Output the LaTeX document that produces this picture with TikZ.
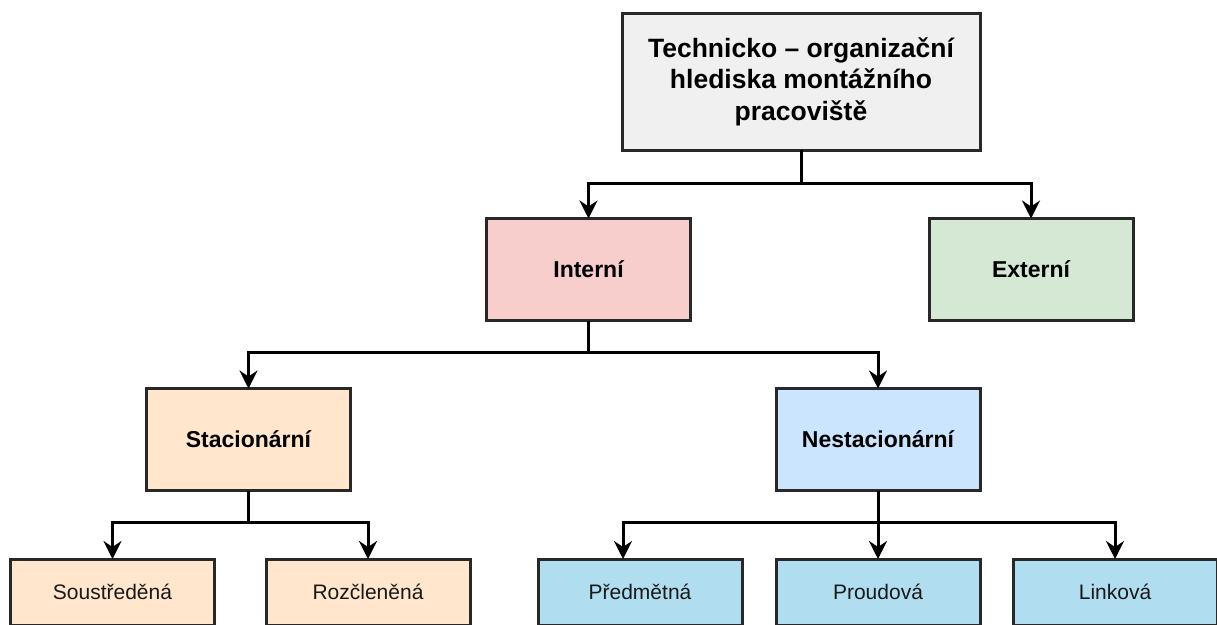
\documentclass[tikz,border=0pt]{standalone}
\usepackage{fontspec}
\setmainfont{Liberation Sans}
\usetikzlibrary{positioning,arrows.meta,calc}
\definecolor{topgray}{RGB}{240,240,240}
\definecolor{intpink}{RGB}{248,206,204}
\definecolor{extgreen}{RGB}{213,232,212}
\definecolor{staorange}{RGB}{255,230,204}
\definecolor{nesblue}{RGB}{204,229,255}
\definecolor{leafblue}{RGB}{177,221,240}
\definecolor{edgegray}{RGB}{40,40,40}
\begin{document}
\begin{tikzpicture}[x=1pt,y=1pt,yscale=-1,
  box/.style={draw=edgegray,line width=3pt,inner sep=0pt,outer sep=0pt,align=center},
  midbox/.style={box,minimum width=204pt,minimum height=102pt,font=\fontsize{23}{28}\selectfont\bfseries},
  leafbox/.style={box,minimum width=204pt,minimum height=66pt,font=\fontsize{21}{26}\selectfont,text=black!90},
  conn/.style={line width=3pt,-{Stealth[length=18pt,width=18pt,inset=6pt]}}]
\useasboundingbox (0,0) rectangle (1217,624);
\clip (0,0) rectangle (1217,624);

%Shape: Rectangle [top]
\node [box,fill=topgray,minimum width=358pt,minimum height=137pt,font=\fontsize{26.5}{31.5}\selectfont\bfseries] (tech) at (801,81.5) {Technicko -- organizační\\hlediska montážního\\pracoviště};

%Shape: Rectangle [level 1]
\node [midbox,fill=intpink] (interni) at (588.5,269.5) {Interní};
\node [midbox,fill=extgreen] (externi) at (1031,269.5) {Externí};

%Shape: Rectangle [level 2]
\node [midbox,fill=staorange] (stac) at (248.5,439.5) {Stacionární};
\node [midbox,fill=nesblue] (nestac) at (878,439.5) {Nestacionární};

%Shape: Rectangle [level 3]
\node [leafbox,fill=staorange] (soustr) at (112.5,592) {Soustředěná};
\node [leafbox,fill=staorange] (rozcl) at (368,592) {Rozčleněná};
\node [leafbox,fill=leafblue] (predm) at (640,592) {Předmětná};
\node [leafbox,fill=leafblue] (proud) at (878,592) {Proudová};
\node [leafbox,fill=leafblue] (link) at (1115,592) {Linková};

% Connectors
\draw [conn] (tech.south) -- ++(0,33) -| (interni.north);
\draw [conn] (tech.south) -- ++(0,33) -| (externi.north);
\draw [conn] (interni.south) -- ++(0,32) -| (stac.north);
\draw [conn] (interni.south) -- ++(0,32) -| (nestac.north);
\draw [conn] (stac.south) -- ++(0,32) -| (soustr.north);
\draw [conn] (stac.south) -- ++(0,32) -| (rozcl.north);
\draw [conn] (nestac.south) -- ++(0,32) -| ([xshift=-17pt]predm.north);
\draw [conn] (nestac.south) -- (proud.north);
\draw [conn] (nestac.south) -- ++(0,32) -| (link.north);

\end{tikzpicture}
\end{document}
